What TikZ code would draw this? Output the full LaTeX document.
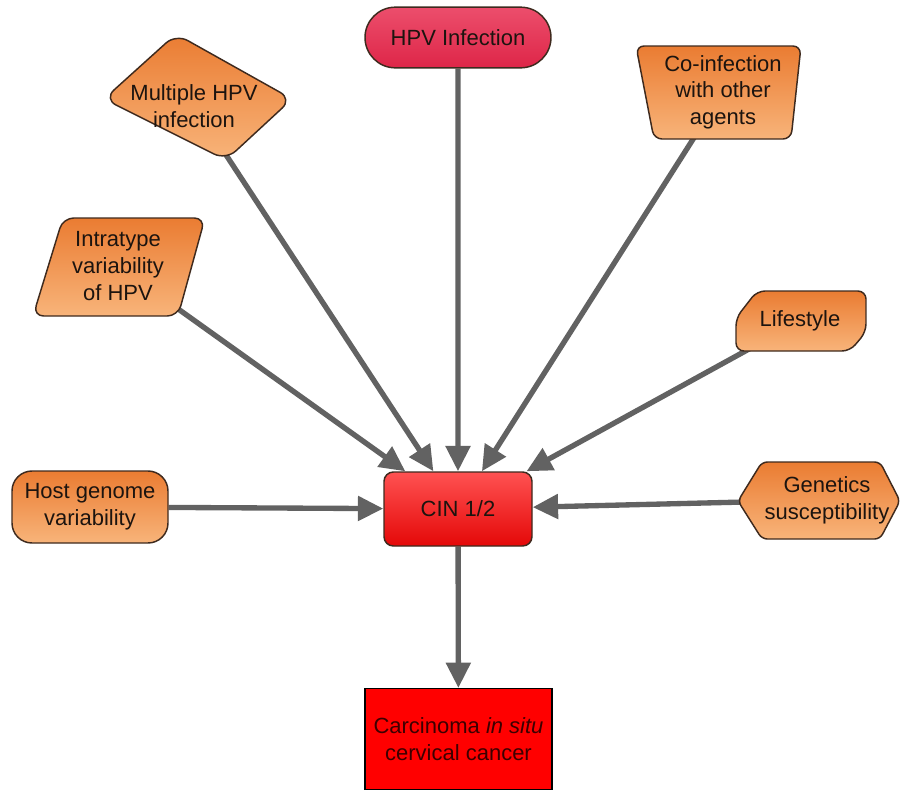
\documentclass[tikz,border=0pt]{standalone}
\usepackage{fontspec}
\setmainfont{Liberation Sans}
\usepackage{tikz}
\usetikzlibrary{arrows.meta, positioning, backgrounds, shapes.misc}

\definecolor{orangetop}{RGB}{234,124,50}
\definecolor{orangebot}{RGB}{248,180,122}
\definecolor{edgecol}{RGB}{62,42,30}
\definecolor{txtcol}{RGB}{28,20,15}
\definecolor{linkgray}{RGB}{98,98,98}

\begin{document}
\begin{tikzpicture}[x=0.75pt,y=0.75pt,yscale=-1,xscale=1,
  box/.style={draw=edgecol, line width=1.1pt, top color=orangetop, bottom color=orangebot, rounded corners=6pt},
  lbl/.style={align=center, inner sep=0.75pt, text=txtcol, font=\fontsize{16.5}{20}\selectfont},
  link/.style={draw=linkgray, line width=4pt, -{Triangle[length=19pt,width=18pt]}}]
%set diagram size: 911 x 790
\useasboundingbox (0,0) rectangle (911,790);

%Shape: Multiple HPV
\draw [box, rounded corners=10pt] (104,99) -- (176,34) -- (292,99) -- (226,160) -- cycle ;
%Shape: Co-infection
\draw [box] (636,46) -- (801,46) -- (791,139) -- (654,139) -- cycle ;
%Shape: Intratype
\draw [box, rounded corners=8pt] (63,218) -- (205,218) -- (178,316) -- (33,316) -- cycle ;
%Shape: Lifestyle
\draw [box] (736,318) -- (757,291) -- (866,291) -- (866,332) -- (850,351) -- (736,351) -- cycle ;
%Shape: Genetics
\draw [box, rounded corners=4pt] (738,501) -- (762,462) -- (880,462) -- (900,501) -- (880,539) -- (762,539) -- cycle ;

% Text Node
\node (hpv) [draw=edgecol, line width=1.1pt, rounded rectangle, top color={rgb,255:red,236;green,78;blue,108}, bottom color={rgb,255:red,222;green,38;blue,72}, minimum width=141pt, minimum height=45.5pt, lbl] at (458,37.5) {HPV Infection};
% Text Node
\node (multi) [lbl] at (194,106) {Multiple HPV\\infection};
% Text Node
\node (coinf) [lbl] at (723,92) {Co-infection\\with other\\agents};
% Text Node
\node (intra) [lbl] at (118,266) {Intratype\\variability\\of HPV};
% Text Node
\node (life) [lbl] at (800,321) {Lifestyle};
% Text Node
\node (host) [box, rounded corners=15pt, minimum width=117pt, minimum height=54pt, lbl] at (90,507) {Host genome\\variability};
% Text Node
\node (gen) [lbl] at (827,500) {Genetics\\susceptibility};
% Text Node
\node (cin) [draw=edgecol, line width=1.1pt, rounded corners=7pt, top color={rgb,255:red,255;green,82;blue,82}, bottom color={rgb,255:red,228;green,8;blue,8}, minimum width=111pt, minimum height=55.5pt, lbl] at (458,509) {CIN 1/2};
% Text Node
\node (carc) [draw=black, line width=1.1pt, fill={rgb,255:red,255;green,0;blue,0}, minimum width=140pt, minimum height=75.5pt, lbl, text={rgb,255:red,60;green,0;blue,0}] at (458.5,739) {Carcinoma \textit{in situ}\\cervical cancer};

%Straight Lines
\begin{scope}[on background layer]
\draw [link] (hpv) -- (cin) ;
\draw [link] (multi) -- (cin) ;
\draw [link] (coinf) -- (cin) ;
\draw [link] (intra) -- (cin) ;
\draw [link] (life) -- (cin) ;
\draw [link] (host) -- (cin) ;
\draw [link] (gen) -- (cin) ;
\draw [link] (cin) -- (carc) ;
\end{scope}

\end{tikzpicture}
\end{document}
